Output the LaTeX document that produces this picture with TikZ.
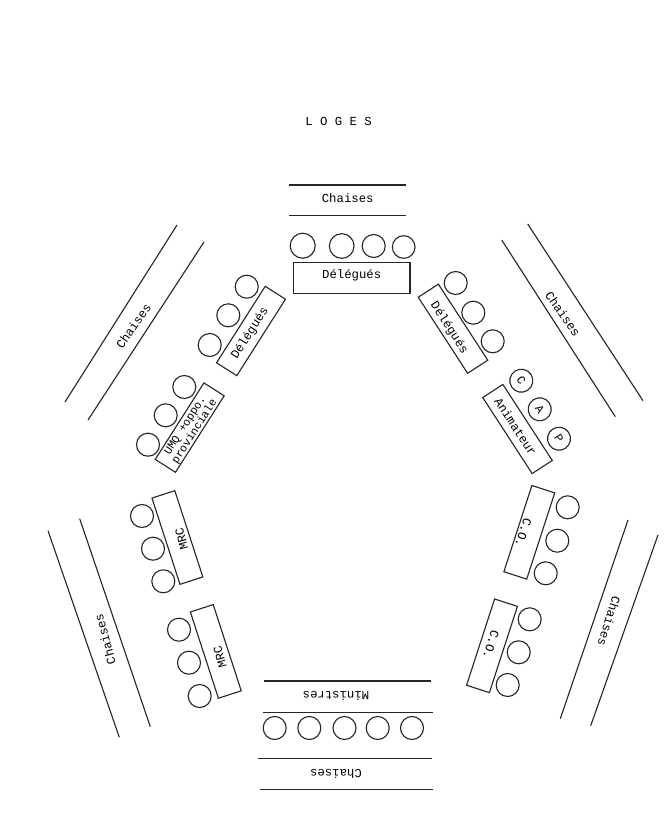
\documentclass[tikz,border=0pt]{standalone}
\usepackage{fontspec}
\setmonofont{Liberation Mono}
\tikzset{
    table/.style={draw=black!85, line width=0.95pt, minimum width=2.72cm, minimum height=0.72cm, inner sep=0pt},
    seat/.style={circle, draw=black!85, line width=0.95pt, minimum size=0.69cm, inner sep=0pt, font=\ttfamily\fontsize{10}{10}\selectfont},
    rowline/.style={black!85, line width=0.95pt},
    tag/.style={inner sep=0pt, text=black, font=\ttfamily\fontsize{10.5}{12}\selectfont}
}

\begin{document}
\begin{tikzpicture}[x=0.03cm, y=-0.03cm]
    \useasboundingbox (0,0) rectangle (664,832);

    % Title
    \node[tag] (loges) at (338.5,121) {L O G E S};

    % Top side
    \draw[rowline] (289,185) -- (406,185);
    \draw[rowline] (289,215.5) -- (406,215.5);
    \node[tag] (topchairs) at (347.7,198) {Chaises};
    \foreach \px/\py/\dia [count=\i] in {302.7/245.7/0.75, 341.7/246/0.74, 373.7/246/0.69, 403.7/247/0.68}
        \node[seat, minimum size=\dia cm] (topseat\i) at (\px,\py) {};
    \node[table, minimum width=3.5cm, minimum height=0.94cm] (toptable) at (351.7,278) {};
    \node[tag] (toplabel) at (351.7,275.3) {Délégués};

    % Upper left side
    \draw[rowline] (177,225) -- (65,402);
    \draw[rowline] (204,242) -- (88,420);
    \node[tag, rotate=55] (ulchairs) at (133.5,326) {Chaises};
    \foreach \px/\py [count=\i] in {246.7/286.7, 228.3/315.3, 209.7/345}
        \node[seat] (ulseat\i) at (\px,\py) {};
    \node[table, rotate=57.5] (ultable) at (251,331) {};
    \node[tag, rotate=57.5] (ullabel) at (250,333.3) {Délégués};
    \foreach \px/\py [count=\i] in {184.3/387, 165.7/415.3, 148/444.7}
        \node[seat] (umqseat\i) at (\px,\py) {};
    \node[table, rotate=57.5] (umqtable) at (189.7,427.6) {};
    \node[tag, rotate=57.5, align=center, font=\ttfamily\fontsize{9.6}{9.6}\selectfont] (umqlabel) at (190.2,428.8) {UMQ +oppo.\\provinciale};

    % Upper right side
    \draw[rowline] (527.7,224) -- (643,400.7);
    \draw[rowline] (501.7,240) -- (615.3,416.7);
    \node[tag, rotate=-55] (urchairs) at (563,314) {Chaises};
    \foreach \px/\py [count=\i] in {455.7/283, 473.3/312.7, 492.7/341.3}
        \node[seat] (urseat\i) at (\px,\py) {};
    \node[table, rotate=-57] (urtable) at (453,328.7) {};
    \node[tag, rotate=-57] (urlabel) at (449,328) {Délégués};
    \foreach \px/\py/\who in {521.3/380.7/C, 539.7/409.3/A, 559/438.7/P}
        \node[seat, rotate=-57] (seat\who) at (\px,\py) {\who};
    \node[table, rotate=-57] (animtable) at (517.5,429) {};
    \node[tag, rotate=-57] (animlabel) at (515.7,426.7) {Animateur};

    % Lower left side
    \draw[rowline] (48,530.7) -- (119.3,737.3);
    \draw[rowline] (79.7,518.7) -- (150.3,726.7);
    \node[tag, rotate=105] (llchairs) at (105,639.3) {Chaises};
    \foreach \px/\py [count=\i] in {142/516, 153/548.7, 163.3/581.3}
        \node[seat] (mrcAseat\i) at (\px,\py) {};
    \node[table, rotate=108] (mrcAtable) at (177.4,537.5) {};
    \node[tag, rotate=105] (mrcAlabel) at (181.7,539.3) {MRC};
    \foreach \px/\py [count=\i] in {179/629.7, 189/662.7, 199.7/696}
        \node[seat] (mrcBseat\i) at (\px,\py) {};
    \node[table, rotate=108] (mrcBtable) at (215.8,651.4) {};
    \node[tag, rotate=105] (mrcBlabel) at (220,657) {MRC};

    % Lower right side
    \draw[rowline] (628,520) -- (560.3,718.7);
    \draw[rowline] (658,535) -- (590.7,725.7);
    \node[tag, rotate=-107] (lrchairs) at (609.3,621) {Chaises};
    \foreach \px/\py [count=\i] in {567.7/507.3, 557.3/540.7, 545.7/573.3}
        \node[seat] (coAseat\i) at (\px,\py) {};
    \node[table, rotate=-108] (coAtable) at (529.3,532.3) {};
    \node[tag, rotate=-108] (coAlabel) at (523.3,533) {C.O.};
    \foreach \px/\py [count=\i] in {529.7/619.3, 518.7/652.3, 507.7/685}
        \node[seat] (coBseat\i) at (\px,\py) {};
    \node[table, rotate=-108] (coBtable) at (492,645.8) {};
    \node[tag, rotate=-108] (coBlabel) at (491,645) {C.O.};

    % Bottom side
    \draw[rowline] (264.3,681) -- (431.3,681);
    \draw[rowline] (263,712.3) -- (433,712.3);
    \node[tag, rotate=180] (botministers) at (336,696) {Ministres};
    \foreach \px [count=\i] in {274.7, 309.3, 344.5, 377.7, 412}
        \node[seat] (botseat\i) at (\px,728) {};
    \draw[rowline] (258,758.7) -- (432,758.7);
    \draw[rowline] (260,789.7) -- (433,789.7);
    \node[tag, rotate=180] (botchairs) at (336,774) {Chaises};
\end{tikzpicture}
\end{document}
